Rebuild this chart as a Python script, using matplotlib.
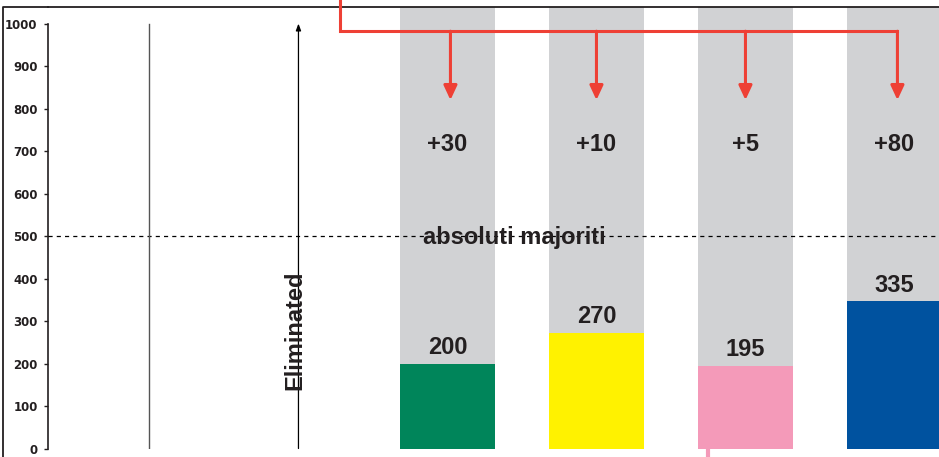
import matplotlib.pyplot as plt
from matplotlib.lines import Line2D

# data
positions = [2, 3, 4, 5]
bar_heights = [200, 272, 195, 347]
vote_labels = ['200', '270', '195', '335']
gains = ['+30', '+10', '+5', '+80']
bar_colors = ['#00855A', '#FFF200', '#F49AB9', '#00529F']
yticks = [0, 100, 200, 300, 400, 500, 600, 700, 800, 900, 1000]
majority = 500
arrow_x = [2.02, 3.0, 4.0, 5.02]

GRAY = '#D1D2D4'
RED = '#EE4035'
BIG = dict(family='Liberation Sans', fontweight='bold', fontsize=17, color='#231F20')

fig = plt.figure(figsize=(9.39, 4.57), dpi=100)
ax = fig.add_axes([48 / 939, 8.5 / 457, 891 / 939, 441.5 / 457])
ax.set_xlim(-0.681, 5.299)
ax.set_ylim(0, 1039)

# full-height gray columns and the vote bars
ax.bar(positions, [1039] * 4, width=0.638, color=GRAY, zorder=1)
ax.bar(positions, bar_heights, width=0.638, color=bar_colors, zorder=2)

for x, h, lab in zip(positions, bar_heights, vote_labels):
    ax.annotate(lab, (x, h), xytext=(0, 11.5), textcoords='offset points',
                ha='center', va='center', zorder=5, **BIG)
for x, g in zip(positions, gains):
    ax.text(x, 716, g, ha='center', va='center', zorder=5, **BIG)

# absolute majority line
ax.axhline(majority, color='black', lw=0.9, dashes=(3.3, 3.3), zorder=3)
ax.text(2.45, 497, 'absoluti majoriti', ha='center', va='center', zorder=4, **BIG)

# eliminated parties
ax.plot([0, 0], [0, 1000], color='#555555', lw=1, zorder=3)
ax.annotate('', xy=(1, 1000), xytext=(1, 0),
            arrowprops=dict(arrowstyle='-|>,head_length=0.4,head_width=0.15',
                            color='black', lw=0.9, shrinkA=0, shrinkB=0), zorder=3)
ax.text(0.977, 279, 'Eliminated', rotation=90, ha='center', va='center', zorder=4, **BIG)

# red transfer arrows
ax.plot([1.279, 1.279, 5.02], [1065, 982, 982], color=RED, lw=2.2,
        solid_joinstyle='miter', clip_on=False, zorder=6)
for x in arrow_x:
    ax.annotate('', xy=(x, 820), xytext=(x, 982),
                arrowprops=dict(arrowstyle='-|>,head_length=0.86,head_width=0.4',
                                color=RED, lw=2.2, shrinkA=0, shrinkB=0), zorder=6)

# small pink tail below the pink bar
ax.plot([3.75, 3.75], [0, -25], color='#F49AB9', lw=3, clip_on=False, zorder=2)

ax.set_yticks(yticks)
ax.set_yticklabels([str(t) for t in yticks], fontsize=8.5, fontweight='bold', color='#231F20')
ax.tick_params(axis='y', length=3, width=1, pad=4.5, color='#231F20')
ax.set_xticks([])
for s in ['right', 'bottom']:
    ax.spines[s].set_visible(False)
ax.spines['top'].set_color('#231F20')
ax.spines['top'].set_linewidth(1.3)
ax.spines['left'].set_bounds(0, 1000)
ax.spines['left'].set_color('#231F20')
ax.spines['left'].set_linewidth(1.2)

# outer frame on the left and top
fig.add_artist(Line2D([3 / 939, 3 / 939, 48 / 939], [0, 1 - 7 / 457, 1 - 7 / 457],
                      color='#231F20', lw=1.3, transform=fig.transFigure))

fig.savefig('out.png', dpi=100)
